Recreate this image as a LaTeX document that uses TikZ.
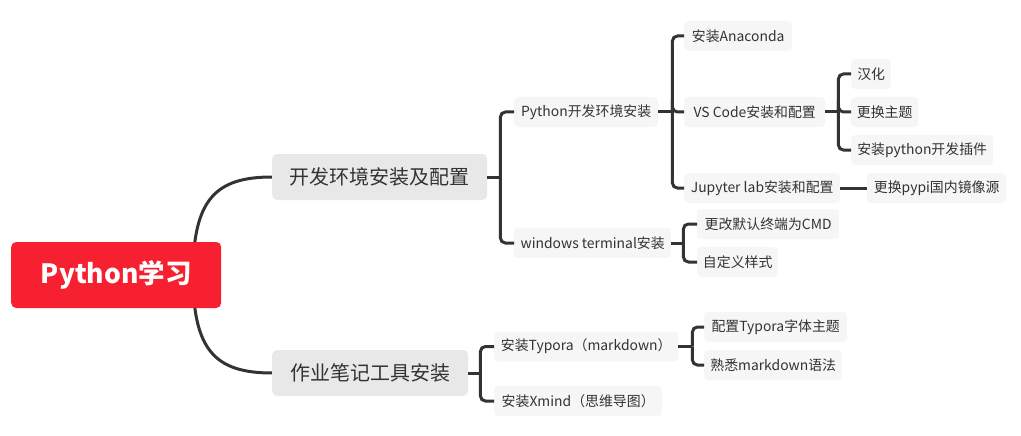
\documentclass[tikz,border=0pt]{standalone}
\usepackage{fontspec}
\setmainfont{Noto Sans CJK SC}
\usetikzlibrary{backgrounds}
\definecolor{rootred}{HTML}{F72030}
\definecolor{lonefill}{HTML}{E8E8E8}
\definecolor{ltwofill}{HTML}{F6F6F6}
\definecolor{linec}{HTML}{333333}
\definecolor{textc}{HTML}{333333}
\tikzset{
  rootbox/.style={draw=none, fill=rootred, rounded corners=5pt, anchor=west,
    minimum height=66pt, inner sep=0pt, text=white,
    font=\fontsize{26.5}{30}\selectfont\bfseries},
  lonebox/.style={draw=none, fill=lonefill, rounded corners=5pt, anchor=west,
    minimum height=46pt, inner sep=0pt, text=textc,
    font=\fontsize{20}{24}\selectfont},
  ltwobox/.style={draw=none, fill=ltwofill, rounded corners=4pt, anchor=west,
    minimum height=30pt, inner sep=0pt, text=textc,
    font=\fontsize{13.9}{16}\selectfont},
  conn/.style={draw=linec, line width=3pt, rounded corners=5pt},
  curveconn/.style={draw=linec, line width=3pt}
}
\begin{document}
\begin{tikzpicture}[x=1pt,y=-1pt]
\useasboundingbox (0,0) rectangle (1021,436);
% root
\node[rootbox, minimum width=210pt] (root) at (11,275) {Python学习};
% level 1
\node[lonebox, minimum width=215pt] (env) at (272,177) {开发环境安装及配置};
\node[lonebox, minimum width=196pt] (note) at (272,373) {作业笔记工具安装};
% level 2
\node[ltwobox, minimum width=144pt] (pyenv) at (514,112) {Python开发环境安装};
\node[ltwobox, minimum width=157pt] (wt) at (514,243) {windows terminal安装};
\node[ltwobox, minimum width=184pt] (typora) at (494,346.5) {安装Typora（markdown）};
\node[ltwobox, minimum width=168pt] (xmind) at (494,401) {安装Xmind（思维导图）};
% level 3
\node[ltwobox, minimum width=108pt] (ana) at (684,36) {安装Anaconda};
\node[ltwobox, minimum width=141pt] (vsc) at (684,112) {VS Code安装和配置};
\node[ltwobox, minimum width=156pt] (jup) at (684,188) {Jupyter lab安装和配置};
\node[ltwobox, minimum width=142pt] (cmd) at (697,224) {更改默认终端为CMD};
\node[ltwobox, minimum width=81pt] (style) at (697,262) {自定义样式};
\node[ltwobox, minimum width=143pt] (font) at (704,327) {配置Typora字体主题};
\node[ltwobox, minimum width=138pt] (md) at (704,365) {熟悉markdown语法};
% level 4
\node[ltwobox, minimum width=40pt] (hanhua) at (851,74) {汉化};
\node[ltwobox, minimum width=67pt] (theme) at (851,112) {更换主题};
\node[ltwobox, minimum width=142pt] (plugin) at (851,150) {安装python开发插件};
\node[ltwobox, minimum width=139pt] (pypi) at (867,188) {更换pypi国内镜像源};
% connectors
\begin{pgfonlayer}{background}
\coordinate (rc) at (193,275);
\draw[curveconn] (rc) .. controls +(0,-75) and +(-57,0) .. (env.west);
\draw[curveconn] (rc) .. controls +(0,75) and +(-57,0) .. (note.west);
\end{pgfonlayer}
% env bracket
\draw[conn] (env.east) -- ++(13,0) coordinate (envb);
\draw[conn] (envb) |- (pyenv.west);
\draw[conn] (envb) |- (wt.west);
% pyenv bracket
\draw[conn] (pyenv.east) -- ++(14,0) coordinate (pyb);
\draw[conn] (pyb) |- (ana.west);
\draw[conn] (pyb) |- (vsc.west);
\draw[conn] (pyb) |- (jup.west);
% vsc bracket
\draw[conn] (vsc.east) -- ++(13,0) coordinate (vsb);
\draw[conn] (vsb) |- (hanhua.west);
\draw[conn] (vsb) |- (theme.west);
\draw[conn] (vsb) |- (plugin.west);
% jupyter
\draw[conn] (jup.east) -- (pypi.west);
% wt bracket
\draw[conn] (wt.east) -- ++(12,0) coordinate (wtb);
\draw[conn] (wtb) |- (cmd.west);
\draw[conn] (wtb) |- (style.west);
% note bracket
\draw[conn] (note.east) -- ++(12,0) coordinate (nb);
\draw[conn] (nb) |- (typora.west);
\draw[conn] (nb) |- (xmind.west);
% typora bracket
\draw[conn] (typora.east) -- ++(14,0) coordinate (tb);
\draw[conn] (tb) |- (font.west);
\draw[conn] (tb) |- (md.west);
\end{tikzpicture}
\end{document}
